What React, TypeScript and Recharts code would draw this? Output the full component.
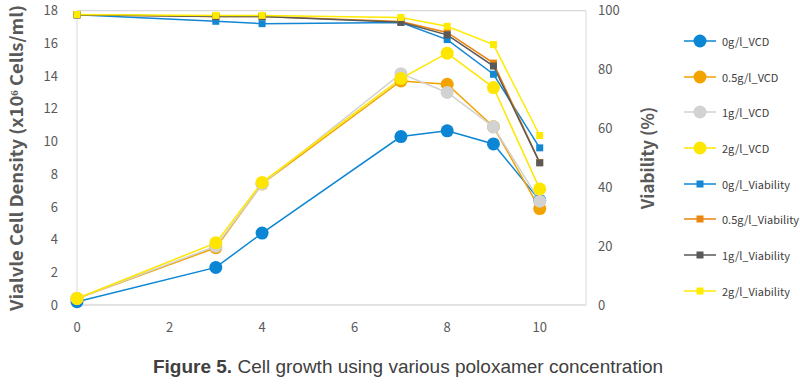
import { LineChart, Line, XAxis, YAxis, CartesianGrid } from "recharts";

const days = [0, 3, 4, 7, 8, 9, 10];

const vcd0 = [0.2, 2.3, 4.4, 10.3, 10.65, 9.85, 6.4];
const vcd05 = [0.4, 3.5, 7.4, 13.7, 13.5, 10.9, 5.9];
const vcd1 = [0.4, 3.6, 7.4, 14.15, 13.0, 10.9, 6.35];
const vcd2 = [0.4, 3.8, 7.5, 13.85, 15.4, 13.3, 7.1];

const via0 = [98.6, 96.4, 95.6, 96.0, 90.2, 78.4, 53.4];
const via05 = [98.6, 98.0, 98.0, 96.3, 92.6, 82.2, 48.4];
const via1 = [98.6, 98.0, 98.0, 96.1, 91.8, 81.2, 48.3];
const via2 = [98.7, 98.4, 98.4, 97.7, 94.7, 88.5, 57.6];

const xTicks = [0, 2, 4, 6, 8, 10];
const leftTicks = [0, 2, 4, 6, 8, 10, 12, 14, 16, 18];
const rightTicks = [0, 20, 40, 60, 80, 100];

type Series = { key: string; name: string; values: number[]; color: string; axis: "l" | "r" };

const series: Series[] = [
  { key: "vcd0", name: "0g/l_VCD", values: vcd0, color: "#0A86D4", axis: "l" },
  { key: "vcd05", name: "0.5g/l_VCD", values: vcd05, color: "#F2A300", axis: "l" },
  { key: "vcd1", name: "1g/l_VCD", values: vcd1, color: "#D2D2D2", axis: "l" },
  { key: "vcd2", name: "2g/l_VCD", values: vcd2, color: "#FFE600", axis: "l" },
  { key: "via0", name: "0g/l_Viability", values: via0, color: "#1387D3", axis: "r" },
  { key: "via05", name: "0.5g/l_Viability", values: via05, color: "#EB8411", axis: "r" },
  { key: "via1", name: "1g/l_Viability", values: via1, color: "#595959", axis: "r" },
  { key: "via2", name: "2g/l_Viability", values: via2, color: "#FFEB00", axis: "r" },
];

const data = days.map((d, i) => {
  const row: Record<string, number> = { day: d };
  for (const s of series) row[s.key] = s.values[i];
  return row;
});

const tickFont = { fontFamily: "Noto Sans CJK KR", fontSize: 13, fill: "#595959" };
const grid = "#d9d9d9";

function squareDot(color: string) {
  return (p: any) => (
    <rect key={`${p.dataKey}-${p.index}`} x={p.cx - 3.5} y={p.cy - 3.5} width={7} height={7} fill={color} />
  );
}

function LegendBox() {
  return (
    <div style={{ position: "absolute", left: 684, top: 23, fontFamily: "Noto Sans CJK KR", fontSize: 11, color: "#404040" }}>
      {series.map((s) => (
        <div key={s.key} style={{ display: "flex", alignItems: "center", height: 35.7 }}>
          <svg width={32} height={16}>
            <line x1={0} y1={8} x2={32} y2={8} stroke={s.color} strokeWidth={1.5} />
            {s.axis === "l" ? (
              <circle cx={16} cy={8} r={6.5} fill={s.color} />
            ) : (
              <rect x={12.5} y={4.5} width={7} height={7} fill={s.color} />
            )}
          </svg>
          <span style={{ marginLeft: 6 }}>{s.name}</span>
        </div>
      ))}
    </div>
  );
}

export default function App() {
  return (
    <div style={{ position: "absolute", left: 0, top: 0, width: 800, height: 384, background: "#fff" }}>
      <LineChart
        width={800}
        height={384}
        data={data}
        margin={{ top: 10.7, right: 174, left: 0, bottom: 49 }}
      >
        <CartesianGrid vertical={false} stroke={grid} strokeWidth={1.2} />
        <XAxis
          dataKey="day"
          type="number"
          domain={[0, 11]}
          ticks={xTicks}
          stroke={grid}
          tickLine={false}
          tick={tickFont}
          tickMargin={12}
          height={30}
        />
        <YAxis
          yAxisId="l"
          domain={[0, 18]}
          ticks={leftTicks}
          stroke={grid}
          tickLine={false}
          tick={tickFont}
          tickMargin={13}
          width={77}
        />
        <YAxis
          yAxisId="r"
          orientation="right"
          domain={[0, 100]}
          ticks={rightTicks}
          stroke={grid}
          tickLine={false}
          tick={{ ...tickFont, textAnchor: "start" }}
          tickMargin={6}
          width={40}
        />
        {series.map((s) => (
          <Line
            key={s.key}
            yAxisId={s.axis}
            dataKey={s.key}
            name={s.name}
            stroke={s.color}
            strokeWidth={1.5}
            isAnimationActive={false}
            activeDot={false}
            dot={s.axis === "l" ? { r: 6.5, fill: s.color, stroke: s.color, strokeWidth: 0 } : squareDot(s.color)}
          />
        ))}
      </LineChart>
      <svg style={{ position: "absolute", left: 0, top: 0 }} width={40} height={384}>
        <text
          x={0}
          y={0}
          transform="translate(23,158) rotate(-90)"
          textAnchor="middle"
          textLength={306}
          lengthAdjust="spacingAndGlyphs"
          style={{ fontFamily: "Noto Sans CJK KR", fontWeight: 700, fontSize: 17, fill: "#595959" }}
        >
          Vialvle Cell Density (x10⁶ Cells/ml)
        </text>
      </svg>
      <div
        style={{
          position: "absolute",
          left: 646,
          top: 158,
          transform: "translate(-50%, -50%) rotate(-90deg)",
          fontFamily: "Noto Sans CJK KR",
          fontWeight: 700,
          fontSize: 17,
          color: "#595959",
          whiteSpace: "nowrap",
        }}
      >
        Viability (%)
      </div>
      <LegendBox />
      <div
        style={{
          position: "absolute",
          left: 0,
          width: 816,
          top: 356,
          textAlign: "center",
          fontFamily: "Liberation Sans",
          fontSize: 19,
          color: "#404040",
        }}
      >
        <b>Figure 5.</b> Cell growth using various poloxamer concentration
      </div>
    </div>
  );
}
